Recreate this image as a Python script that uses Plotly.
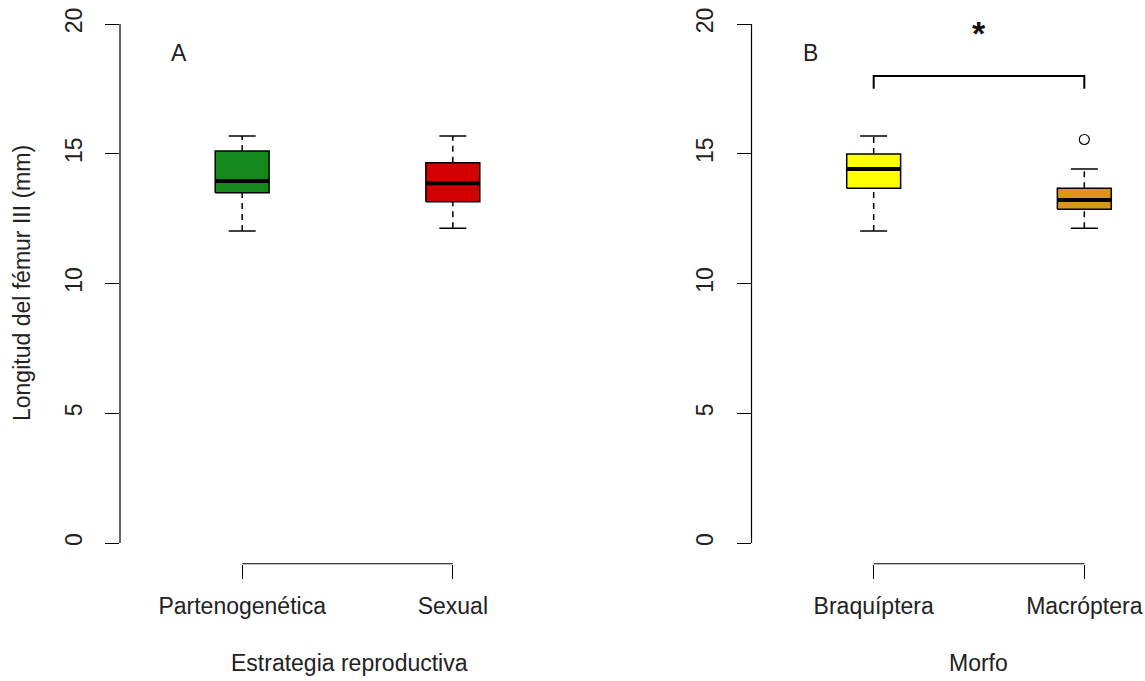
import plotly.graph_objects as go

# ---------------- data ----------------
cats_A = ["Partenogenética", "Sexual"]
lower_A = [12.02, 12.13]
q1_A = [13.50, 13.15]
med_A = [13.95, 13.86]
q3_A = [15.11, 14.65]
upper_A = [15.68, 15.68]
colors_A = ["#12891a", "#d20000"]

cats_B = ["Braquíptera", "Macróptera"]
lower_B = [12.02, 12.13]
q1_B = [13.67, 12.86]
med_B = [14.41, 13.22]
q3_B = [14.99, 13.67]
upper_B = [15.68, 14.41]
colors_B = ["#ffff00", "#d9961a"]
outliers_B_x = [2]
outliers_B_y = [15.55]

y_ticks = [0, 5, 10, 15, 20]
sig_bracket_y = [17.5, 18.0]

W, H = 1145, 681
FONT = "Liberation Sans, Arial, Helvetica, sans-serif"
FS = 23
HW = 0.128   # box half-width
SW = 0.064   # staple half-width

fig = go.Figure()


def add_boxes(xa, ya, lower, q1, med, q3, upper, colors):
    for i in range(len(med)):
        c = i + 1
        fig.add_trace(go.Scatter(
            x=[c - HW, c + HW, c + HW, c - HW, c - HW],
            y=[q1[i], q1[i], q3[i], q3[i], q1[i]],
            mode="lines", fill="toself", fillcolor=colors[i],
            line=dict(color="black", width=1.5),
            xaxis=xa, yaxis=ya, hoverinfo="skip", showlegend=False))
        for a, b in ((q3[i], upper[i]), (lower[i], q1[i])):
            fig.add_trace(go.Scatter(
                x=[c, c], y=[a, b], mode="lines",
                line=dict(color="black", width=1.5, dash="6px,5px"),
                xaxis=xa, yaxis=ya, hoverinfo="skip", showlegend=False))
        for v in (upper[i], lower[i]):
            fig.add_trace(go.Scatter(
                x=[c - SW, c + SW], y=[v, v], mode="lines",
                line=dict(color="black", width=1.5),
                xaxis=xa, yaxis=ya, hoverinfo="skip", showlegend=False))
        fig.add_trace(go.Scatter(
            x=[c - HW, c + HW], y=[med[i], med[i]], mode="lines",
            line=dict(color="black", width=4),
            xaxis=xa, yaxis=ya, hoverinfo="skip", showlegend=False))


add_boxes("x", "y", lower_A, q1_A, med_A, q3_A, upper_A, colors_A)
add_boxes("x2", "y2", lower_B, q1_B, med_B, q3_B, upper_B, colors_B)

fig.add_trace(go.Scatter(
    x=outliers_B_x, y=outliers_B_y, mode="markers",
    marker=dict(symbol="circle-open", size=10, color="black", line=dict(width=1.2)),
    xaxis="x2", yaxis="y2", hoverinfo="skip", showlegend=False))

fig.add_trace(go.Scatter(
    x=[1, 1, 2, 2], y=[sig_bracket_y[0], sig_bracket_y[1], sig_bracket_y[1], sig_bracket_y[0]],
    mode="lines", line=dict(color="black", width=2),
    xaxis="x2", yaxis="y2", hoverinfo="skip", showlegend=False))

# ---------------- layout ----------------
px_unit = (575 - 120) / 2.16
xA_dom = [120 / W, 575 / W]
xB_dom = [751.5 / W, 1.0]
xB_max = 0.42 + (W - 751.5) / px_unit
y_dom = [1 - 563.76 / H, 1 - 3.24 / H]

common_x = dict(showgrid=False, zeroline=False, showline=False,
                ticks="outside", ticklen=14, tickwidth=1, tickcolor="black",
                tickfont=dict(family=FONT, size=FS, color="#222"),
                ticklabelstandoff=8, automargin=False, fixedrange=True)
common_y = dict(showgrid=False, zeroline=False, showline=False,
                range=[-0.8, 20.8], domain=y_dom,
                tickvals=y_ticks, ticktext=[str(v) for v in y_ticks],
                ticks="outside", ticklen=14, tickwidth=1, tickcolor="black",
                tickangle=-90,
                tickfont=dict(family=FONT, size=FS, color="#222"),
                ticklabelstandoff=14, automargin=False, fixedrange=True)

fig.update_layout(
    width=W, height=H,
    margin=dict(l=0, r=0, t=0, b=0),
    paper_bgcolor="white", plot_bgcolor="white",
    xaxis=dict(domain=xA_dom, range=[0.42, 2.58], tickvals=[1, 2], ticktext=cats_A,
               anchor="y", **common_x),
    yaxis=dict(anchor="x", **common_y),
    xaxis2=dict(domain=xB_dom, range=[0.42, xB_max], tickvals=[1, 2], ticktext=cats_B,
                anchor="y2", **common_x),
    yaxis2=dict(anchor="x2", **common_y),
    showlegend=False,
)

for xr, yr in (("x", "y"), ("x2", "y2")):
    fig.add_shape(type="line", xref=xr + " domain", yref=yr, x0=0, x1=0,
                  y0=y_ticks[0], y1=y_ticks[-1], line=dict(color="black", width=1.2))
    fig.add_shape(type="line", xref=xr, yref=yr + " domain", x0=1, x1=2,
                  y0=0, y1=0, line=dict(color="black", width=1.2))

ann_font = dict(family=FONT, size=FS, color="#222")
fig.add_annotation(text="Longitud del fémur III (mm)", textangle=-90,
                   xref="paper", yref="paper", x=22 / W, y=1 - 283 / H,
                   showarrow=False, font=ann_font, xanchor="center", yanchor="middle")
fig.add_annotation(text="Estrategia reproductiva", xref="paper", yref="paper",
                   x=349 / W, y=1 - 663 / H, showarrow=False, font=ann_font,
                   xanchor="center", yanchor="middle")
fig.add_annotation(text="Morfo", xref="paper", yref="paper",
                   x=978 / W, y=1 - 663 / H, showarrow=False, font=ann_font,
                   xanchor="center", yanchor="middle")
fig.add_annotation(text="A", xref="x", yref="y", x=0.7, y=18.9, showarrow=False,
                   font=ann_font, xanchor="center", yanchor="middle")
fig.add_annotation(text="B", xref="x2", yref="y2", x=0.7, y=18.9, showarrow=False,
                   font=ann_font, xanchor="center", yanchor="middle")
fig.add_annotation(text="<b>*</b>", xref="x2", yref="y2", x=1.5, y=19.65, showarrow=False,
                   font=dict(family=FONT, size=34, color="#111"),
                   xanchor="center", yanchor="middle")

fig.write_html("out.html", config={"displayModeBar": False, "staticPlot": True},
               post_script="document.body.style.margin='0px';document.body.style.overflow='hidden';")
